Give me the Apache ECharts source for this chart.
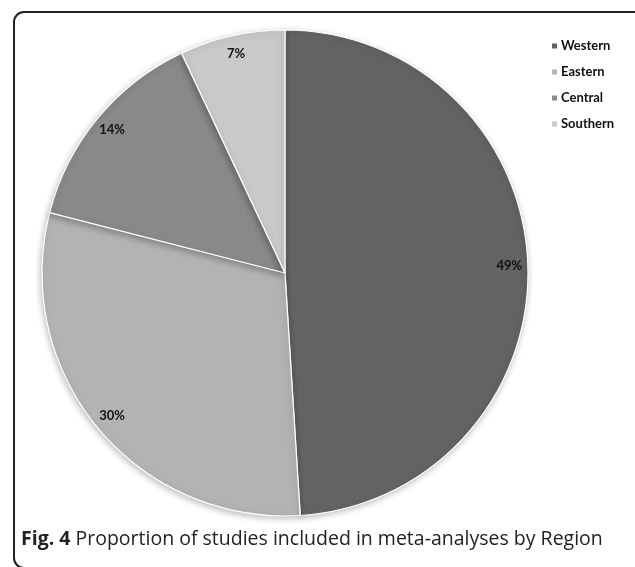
<!DOCTYPE html>
<html>
<head>
<meta charset="utf-8">
<script src="https://cdn.jsdelivr.net/npm/echarts@6/dist/echarts.min.js"></script>
<style>
  html, body { margin: 0; padding: 0; background: #fff; }
  #chart { width: 635px; height: 567px; }
</style>
</head>
<body>
<div id="chart"></div>
<script>
// Share of studies by region (percent)
const regions = ['Western', 'Eastern', 'Central', 'Southern'];
const shares = [49, 30, 14, 7];
const sliceColors = ['#636363', '#b3b3b3', '#898989', '#c9c9c9'];

const pieData = regions.map((name, i) => ({
  name: name,
  value: shares[i],
  itemStyle: { color: sliceColors[i] }
}));

const center = [285, 273];
const outerR = 243;

const chart = echarts.init(document.getElementById('chart'), null, { renderer: 'canvas' });
chart.setOption({
  animation: false,
  backgroundColor: '#ffffff',
  title: {
    left: 21,
    top: 529,
    padding: 0,
    text: '{b|Fig. 4} Proportion of studies included in meta-analyses by Region',
    textStyle: {
      fontFamily: 'Open Sans',
      fontSize: 19.5,
      fontWeight: 'normal',
      color: '#222',
      rich: {
        b: { fontFamily: 'Open Sans', fontSize: 19.5, fontWeight: 'bold', color: '#222' }
      }
    }
  },
  legend: {
    orient: 'vertical',
    left: 550,
    top: 38,
    padding: 0,
    itemWidth: 7,
    itemHeight: 7,
    itemGap: 10,
    icon: 'rect',
    data: regions,
    textStyle: { fontFamily: 'Lato', fontWeight: 'bold', fontSize: 13, lineHeight: 16, color: '#111', padding: [0, 0, 0, -2] }
  },
  graphic: [{
    type: 'rect',
    shape: { x: 14, y: 12, width: 700, height: 556, r: 10 },
    style: { fill: 'none', stroke: '#222', lineWidth: 2 },
    silent: true
  }],
  series: [
    {
      type: 'pie',
      center: center,
      radius: [0, outerR],
      startAngle: 90,
      clockwise: true,
      data: pieData,
      label: { show: false },
      labelLine: { show: false },
      itemStyle: {
        borderColor: '#ffffff',
        borderWidth: 1.2,
        shadowBlur: 6,
        shadowOffsetX: -1,
        shadowOffsetY: 2,
        shadowColor: 'rgba(0,0,0,0.25)'
      },
      emphasis: { disabled: true }
    },
    {
      // Transparent ring used only to place percent labels near the rim
      type: 'pie',
      center: center,
      radius: [200, 243],
      startAngle: 90,
      clockwise: true,
      data: pieData.map(d => ({ name: d.name, value: d.value, itemStyle: { color: 'rgba(0,0,0,0)' } })),
      silent: true,
      label: {
        show: true,
        position: 'inside',
        formatter: p => p.value + '%',
        fontFamily: 'Lato',
        fontWeight: 'bold',
        fontSize: 13,
        color: '#111'
      },
      labelLine: { show: false },
      emphasis: { disabled: true }
    }
  ]
});
</script>
</body>
</html>
